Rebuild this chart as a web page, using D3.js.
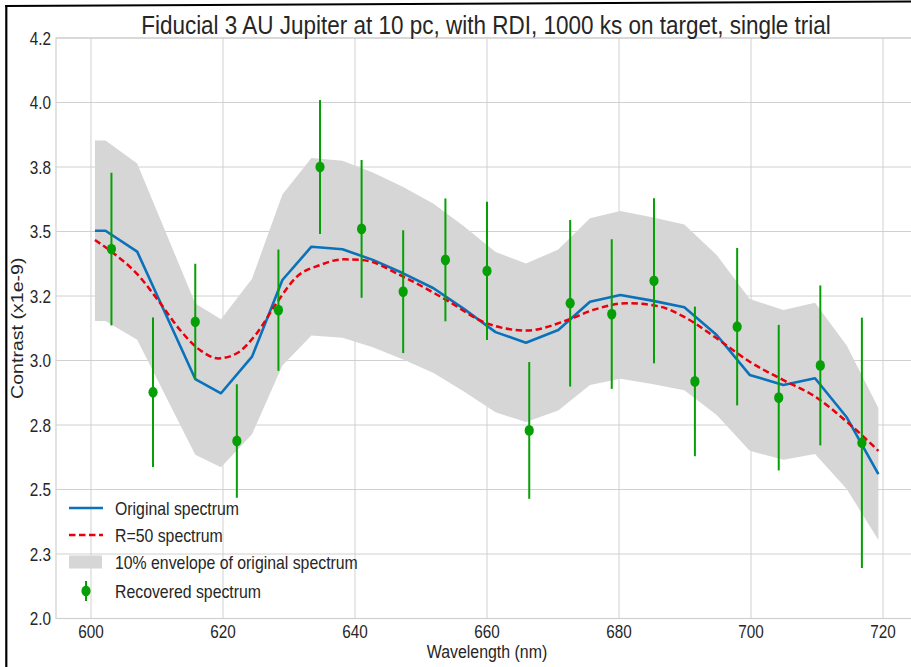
<!DOCTYPE html>
<html>
<head>
<meta charset="utf-8">
<script src="https://cdn.jsdelivr.net/npm/d3@7"></script>
<style>
  html, body { margin: 0; padding: 0; background: #fff; }
  svg { display: block; }
  text { font-family: "Liberation Sans", Arial, sans-serif; fill: #262626; }
</style>
</head>
<body>
<svg id="chart" width="911" height="667"></svg>
<script>
// ---------------- data ----------------
const titleText = "Fiducial 3 AU Jupiter at 10 pc, with RDI, 1000 ks on target, single trial";
const xLabelText = "Wavelength (nm)";
const yLabelText = "Contrast (x1e-9)";

const xTicks = [600, 620, 640, 660, 680, 700, 720];
const yTicks = [2.0, 2.25, 2.5, 2.75, 3.0, 3.25, 3.5, 3.75, 4.0, 4.25];
const yTickLabels = ["2.0", "2.3", "2.5", "2.8", "3.0", "3.2", "3.5", "3.8", "4.0", "4.2"];

// original spectrum
const origWl  = [600.6, 602.2, 607.0, 615.8, 619.7, 624.4, 629.0, 633.4, 638.1, 642.7, 647.3, 651.9, 656.5, 661.3, 665.9, 670.8, 675.6, 680.2, 685.0, 689.9, 694.8, 699.8, 704.9, 709.7, 714.5, 719.3];
const origVal = [3.503, 3.503, 3.422, 2.928, 2.873, 3.015, 3.312, 3.441, 3.431, 3.390, 3.338, 3.280, 3.200, 3.110, 3.069, 3.118, 3.228, 3.254, 3.232, 3.206, 3.099, 2.944, 2.905, 2.931, 2.780, 2.560];
// 10% envelope (read at the same wavelengths)
const envHigh = [3.853, 3.853, 3.764, 3.221, 3.160, 3.317, 3.643, 3.785, 3.774, 3.729, 3.672, 3.608, 3.520, 3.421, 3.376, 3.430, 3.551, 3.579, 3.555, 3.527, 3.409, 3.238, 3.196, 3.224, 3.058, 2.816];
const envLow  = [3.153, 3.153, 3.080, 2.635, 2.586, 2.714, 2.981, 3.097, 3.088, 3.051, 3.004, 2.952, 2.880, 2.799, 2.762, 2.806, 2.905, 2.929, 2.909, 2.885, 2.789, 2.650, 2.615, 2.638, 2.502, 2.304];

// R=50 spectrum
const r50Wl  = [600.6, 603.4, 606.9, 610.5, 613.5, 616.5, 619.3, 622.1, 625.1, 628.1, 631.2, 634.7, 638.2, 641.0, 647.3, 653.4, 660.0, 666.0, 672.2, 676.1, 681.2, 686.2, 689.8, 694.8, 699.8, 704.9, 709.7, 714.5, 719.3];
const r50Val = [3.467, 3.416, 3.338, 3.222, 3.118, 3.041, 3.008, 3.028, 3.105, 3.222, 3.325, 3.370, 3.392, 3.390, 3.325, 3.241, 3.144, 3.116, 3.157, 3.196, 3.222, 3.209, 3.170, 3.086, 2.995, 2.924, 2.860, 2.763, 2.650];

// recovered spectrum
const recWl  = [603.1, 609.4, 615.8, 622.1, 628.4, 634.7, 641.0, 647.3, 653.7, 660.0, 666.4, 672.6, 678.9, 685.3, 691.5, 697.9, 704.2, 710.5, 716.8];
const recVal = [3.432, 2.877, 3.150, 2.688, 3.195, 3.750, 3.510, 3.267, 3.390, 3.347, 2.729, 3.222, 3.180, 3.309, 2.919, 3.131, 2.856, 2.981, 2.681];
const recErr = [0.296, 0.290, 0.225, 0.220, 0.235, 0.260, 0.267, 0.238, 0.238, 0.268, 0.265, 0.323, 0.290, 0.320, 0.290, 0.305, 0.282, 0.310, 0.485];

const legendLabels = ["Original spectrum", "R=50 spectrum", "10% envelope of original spectrum", "Recovered spectrum"];

// ---------------- layout ----------------
const W = 911, H = 667;
const plot = { left: 56, top: 38, right: 918, bottom: 618.5 };
const SX = 0.85; // horizontal squeeze seen in reference
const C = { blue: "#0a72ba", red: "#e8000b", green: "#06a006", env: "#d6d6d6", grid: "#d0d0d0" };

const svg = d3.select("#chart");
svg.append("rect").attr("width", W).attr("height", H).attr("fill", "#fff");

const x = d3.scaleLinear().domain([594.7, 725.3]).range([plot.left, plot.right]);
const y = d3.scaleLinear().domain([2.0, 4.25]).range([plot.bottom, plot.top]);

function txt(g, s, tx, ty, size, anchor, sx) {
  return g.append("text")
    .attr("transform", `translate(${tx},${ty}) scale(${sx || SX},1)`)
    .attr("font-size", size)
    .attr("text-anchor", anchor)
    .text(s);
}

// clip
svg.append("defs").append("clipPath").attr("id", "clip")
  .append("rect").attr("x", plot.left).attr("y", plot.top)
  .attr("width", plot.right - plot.left).attr("height", plot.bottom - plot.top);

// grid
const grid = svg.append("g");
grid.selectAll("line.gx").data(xTicks).join("line")
  .attr("x1", d => x(d)).attr("x2", d => x(d))
  .attr("y1", plot.top).attr("y2", plot.bottom)
  .attr("stroke", C.grid).attr("stroke-width", 1);
grid.selectAll("line.gy").data(yTicks).join("line")
  .attr("x1", plot.left).attr("x2", plot.right)
  .attr("y1", d => y(d)).attr("y2", d => y(d))
  .attr("stroke", C.grid).attr("stroke-width", 1);
svg.append("rect").attr("x", plot.left).attr("y", plot.top)
  .attr("width", plot.right - plot.left).attr("height", plot.bottom - plot.top)
  .attr("fill", "none").attr("stroke", C.grid).attr("stroke-width", 1.2);

const body = svg.append("g").attr("clip-path", "url(#clip)");

// envelope
const envData = origWl.map((w, i) => ({ w, lo: envLow[i], hi: envHigh[i] }));
body.append("path").datum(envData)
  .attr("d", d3.area().x(d => x(d.w)).y0(d => y(d.lo)).y1(d => y(d.hi)))
  .attr("fill", C.env);

// original
body.append("path").datum(origWl.map((w, i) => [w, origVal[i]]))
  .attr("d", d3.line().x(d => x(d[0])).y(d => y(d[1])))
  .attr("fill", "none").attr("stroke", C.blue).attr("stroke-width", 2.6)
  .attr("stroke-linejoin", "round");

// R=50
body.append("path").datum(r50Wl.map((w, i) => [w, r50Val[i]]))
  .attr("d", d3.line().curve(d3.curveMonotoneX).x(d => x(d[0])).y(d => y(d[1])))
  .attr("fill", "none").attr("stroke", C.red).attr("stroke-width", 2.5)
  .attr("stroke-dasharray", "6.5,3.5");

// recovered error bars + points
const rec = recWl.map((w, i) => ({ w, v: recVal[i], e: recErr[i] }));
body.selectAll("line.err").data(rec).join("line")
  .attr("x1", d => x(d.w)).attr("x2", d => x(d.w))
  .attr("y1", d => y(d.v - d.e)).attr("y2", d => y(d.v + d.e))
  .attr("stroke", C.green).attr("stroke-width", 2);
body.selectAll("ellipse.pt").data(rec).join("ellipse")
  .attr("cx", d => x(d.w)).attr("cy", d => y(d.v))
  .attr("rx", 4.6).attr("ry", 5.4).attr("fill", C.green);

// tick labels
const labels = svg.append("g");
xTicks.forEach(t => txt(labels, String(t), x(t), 638, 18, "middle"));
yTicks.forEach((t, i) => txt(labels, yTickLabels[i], 51, y(t) + 6.5, 18, "end"));

// axis labels
txt(labels, xLabelText, (plot.left + plot.right) / 2, 658, 18.7, "middle");
labels.append("text")
  .attr("transform", `translate(23,${(plot.top + plot.bottom) / 2}) rotate(-90) scale(1,${SX})`)
  .attr("font-size", 19.6).attr("text-anchor", "middle")
  .text(yLabelText);

// title: squeezed horizontally to the reference width (690 px)
const title = svg.append("text").attr("font-size", 26).attr("text-anchor", "middle").text(titleText);
const natural = title.node().getComputedTextLength() || 800;
title.attr("transform", `translate(486,34) scale(${690 / natural},1)`);

// legend
const lg = svg.append("g");
const rowY = [508, 535, 562, 591];
lg.append("line").attr("x1", 69).attr("x2", 103).attr("y1", rowY[0]).attr("y2", rowY[0])
  .attr("stroke", C.blue).attr("stroke-width", 2.6);
lg.append("line").attr("x1", 69).attr("x2", 103).attr("y1", rowY[1]).attr("y2", rowY[1])
  .attr("stroke", C.red).attr("stroke-width", 2.5).attr("stroke-dasharray", "6.5,3.5");
lg.append("rect").attr("x", 69).attr("y", rowY[2] - 6.5).attr("width", 33).attr("height", 13)
  .attr("fill", C.env);
lg.append("line").attr("x1", 86).attr("x2", 86).attr("y1", rowY[3] - 10).attr("y2", rowY[3] + 10)
  .attr("stroke", C.green).attr("stroke-width", 2);
lg.append("ellipse").attr("cx", 86).attr("cy", rowY[3]).attr("rx", 4.6).attr("ry", 5.4).attr("fill", C.green);
legendLabels.forEach((s, i) => txt(lg, s, 115, rowY[i] + 6.5, 18, "start", 0.88));

// figure frame (black, left and top)
svg.append("line").attr("x1", 6.3).attr("x2", 6.3).attr("y1", 5).attr("y2", H).attr("stroke", "#000").attr("stroke-width", 2.2);
svg.append("line").attr("x1", 5.2).attr("x2", W).attr("y1", 6).attr("y2", 1.5).attr("stroke", "#000").attr("stroke-width", 2.2);
</script>
</body>
</html>
